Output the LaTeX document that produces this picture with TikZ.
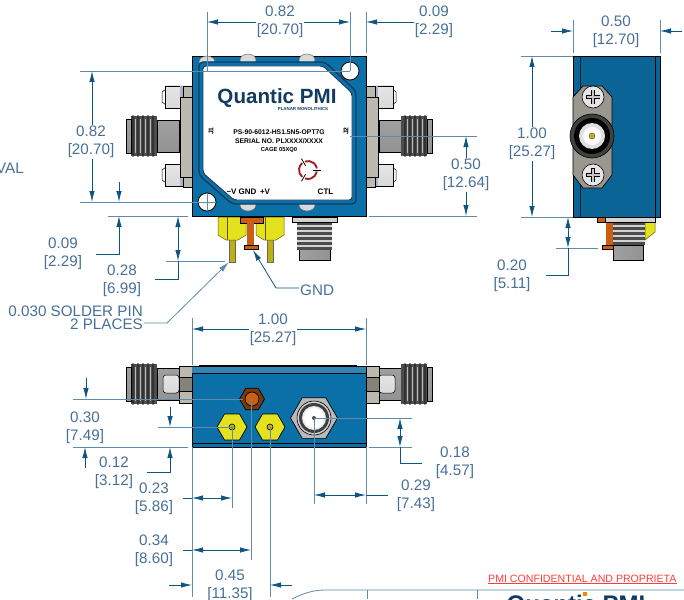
\documentclass[tikz,border=0pt]{standalone}
\usepackage{fontspec}
\setmainfont{Liberation Sans}
\usetikzlibrary{positioning,arrows.meta,calc,shapes.geometric}
\definecolor{pmiBlue}{RGB}{11,112,168}
\definecolor{pmiDeep}{RGB}{10,100,150}
\definecolor{pmiNavy}{RGB}{18,60,95}
\definecolor{pmiDim}{RGB}{15,85,130}
\definecolor{pmiExt}{RGB}{95,140,170}
\definecolor{pmiText}{RGB}{72,112,152}
\definecolor{pmiYellow}{RGB}{228,226,30}
\definecolor{pmiGold}{RGB}{190,175,20}
\definecolor{pmiOrange}{RGB}{200,95,20}
\definecolor{pmiMetal}{RGB}{190,185,175}
\definecolor{pmiRed}{RGB}{160,30,35}
\definecolor{pmiWarn}{RGB}{255,60,60}
\tikzset{
  dimtxt/.style={pmiText, font=\fontsize{15.2}{17.5}\selectfont, align=center, inner sep=1pt, yshift=-2pt},
  lbltxt/.style={black, font=\bfseries\fontsize{6.8}{8}\selectfont, inner sep=0pt},
  pintxt/.style={lbltxt, font=\bfseries\fontsize{8}{9}\selectfont},
  extline/.style={pmiExt, line width=0.8pt},
  dimline/.style={pmiDim, line width=0.8pt},
  dimto/.style={dimline, -{Latex[length=11pt,width=5.5pt]}},
  dimboth/.style={dimline, {Latex[length=11pt,width=5.5pt]}-{Latex[length=11pt,width=5.5pt]}},
  barrel/.style={draw=black, line width=0.5pt, top color=gray!75, middle color=gray!15, bottom color=gray!85},
  barrelup/.style={draw=black, line width=0.5pt, left color=gray!75, middle color=gray!10, right color=gray!85},
  whitehead/.style={draw=black, line width=0.5pt, top color=gray!20, middle color=white, bottom color=gray!30},
  hexnut/.style={regular polygon, regular polygon sides=6, draw=black, line width=0.7pt, inner sep=0pt},
  smaconn/.pic={
    % barrel, thread and mouth
    \path[barrel] (-35,-16) rectangle (-13,16);
    \fill[gray!60!black] (-61,-20) rectangle (-35,20);
    \foreach \t in {-59,-54,-49,-44,-39}
      \draw[black!80, line width=1.8pt, line cap=round] (\t,-20) -- (\t,20);
    \foreach \t in {-56.5,-51.5,-46.5,-41.5}
      \draw[gray!55, line width=0.8pt] (\t,-17) -- (\t,17);
    \path[barrel] (-66,-17) rectangle (-61,17);
  }
}
\begin{document}
\begin{tikzpicture}[x=1pt,y=-1pt]
  \useasboundingbox (0,0) rectangle (684,599);
  \fill[white] (0,0) rectangle (684,599);

  % Top view connectors
  \foreach \mx/\ox in {1/192,-1/366} {
    \begin{scope}[shift={(\ox,0)},xscale=\mx]
      \pic[transform shape] at (0,136) {smaconn};
      \foreach \sy in {97,175} {
        \draw[black, line width=0.5pt, fill=white] (-26,\sy-8) -- (-30,\sy-5) -- (-30,\sy+5) -- (-26,\sy+8) -- cycle;
        \path[whitehead] (-27,\sy-11) rectangle (-9,\sy+11);
        \fill[blue!25!gray!50] (-12,\sy-11) rectangle (-9,\sy+11);
      }
      \fill[pmiMetal, draw=black, line width=0.6pt] (-9,86) -- (0,86) -- (0,187) -- (-9,187) -- (-9,177)
        -- (-12,177) -- (-12,97) -- (-9,97) -- cycle;
      \draw[black, line width=0.8pt] (-9,97) -- (0,97);
      \draw[black, line width=0.8pt] (-9,177) -- (0,177);
    \end{scope}
  }

  % Solder pins, ground post and control connector
  \foreach \cx in {232,270} {
    \fill[pmiGold, draw=black!60, line width=0.4pt] (\cx-3,238) rectangle (\cx+3,262);
    \fill[pmiYellow, draw=black!50!pmiGold, line width=0.5pt] (\cx-14,217) -- (\cx+14,217) -- (\cx+14,235) -- (\cx+6,240)
      -- (\cx-6,240) -- (\cx-14,235) -- cycle;
    \draw[black!50!pmiGold, line width=0.5pt] (\cx-5,217) -- (\cx-5,240);
  }
  \fill[pmiOrange, draw=black, line width=0.6pt] (240,217) rectangle (263,223);
  \fill[pmiOrange] (247,223) rectangle (254,245);
  \fill[pmiOrange, draw=black, line width=0.5pt] (244,245) rectangle (258,249);
  \path[barrelup] (299,248) rectangle (330,260);
  \fill[gray!60!black] (297,222) rectangle (332,250);
  \foreach \t in {226,231,236,241,246}
    \draw[gray!35, line width=1.6pt] (297,\t) -- (332,\t);
  \fill[gray!35, draw=black, line width=0.5pt] (292,217) rectangle (337,222);

  % Top view housing
  \fill[pmiBlue, draw=black, line width=0.9pt] (192,56) rectangle (366,216);
  \foreach \sx/\sy in {207/62,248/60,307/60,248/205,307/205}
    \fill[gray!30, draw=black!60, line width=0.5pt] (\sx,\sy) ellipse (8 and 6);
  \draw[pmiNavy, line width=1.4pt, rounded corners=4pt, fill=pmiBlue] (199,62) -- (325,62) -- (356,91) -- (356,204)
    -- (232,204) -- (199,175) -- cycle;
  \draw[pmiNavy, line width=0.9pt, rounded corners=3pt, fill=white] (203,66) -- (323,66) -- (352,93) -- (352,200)
    -- (234,200) -- (203,173) -- cycle;
  \foreach \hx/\hy in {350/71,207/202}
    \fill[white, draw=black, line width=0.8pt] (\hx,\hy) circle (9);

  % Label
  \node[pmiNavy, font=\bfseries\fontsize{20.6}{21}\selectfont, inner sep=0pt, anchor=base] (logoTop) at (277,103) {Quantic PMI};
  \node[pmiNavy, font=\bfseries\fontsize{4.4}{5}\selectfont, inner sep=0pt] (logoSub) at (303,108.5) {PLANAR MONOLITHICS};
  \node[lbltxt] (lblPart) at (279,132) {PS-90-6012-HS1.5N5-OPT7G};
  \node[lbltxt] (lblSerial) at (279,141) {SERIAL NO. PLXXXX/XXXX};
  \node[lbltxt, font=\bfseries\fontsize{5.8}{7}\selectfont] (lblCage) at (279,150) {CAGE 05XQ0};
  \node[lbltxt, rotate=90] (lblJa) at (211,131) {J1};
  \node[lbltxt, rotate=90] (lblJb) at (346,131) {J2};
  \node[pintxt] (lblMinus) at (231.5,192) {−V};
  \node[pintxt] (lblGnd) at (247.5,192) {GND};
  \node[pintxt] (lblPlus) at (265,192) {+V};
  \node[pintxt] (lblCtl) at (325.5,192) {CTL};
  % Hazard mark
  \foreach \a in {10,130,250}
    \draw[pmiRed, line width=1.9pt] (308,170) ++(\a:9) arc[start angle=\a, end angle=\a+100, radius=9];
  \foreach \a in {0,120,240}
    \draw[black, line width=0.8pt] (308,170) ++(\a:5) -- ++(\a:8);

  % Side view
  \fill[pmiDeep, draw=black, line width=0.8pt] (573,56) rectangle (660,217);
  \draw[black!70!pmiDeep, line width=0.9pt] (580,56) -- (580,217);
  \draw[black, line width=0.6pt] (655,56) -- (655,217);
  \fill[pmiMetal!70!gray!90!black, draw=black, line width=0.7pt] (573,97) -- (583,86) -- (602,86) -- (612,97) -- (612,175)
    -- (602,188) -- (583,188) -- (573,175) -- cycle;
  \foreach \sy in {97,175} {
    \fill[gray!20, draw=black, line width=0.6pt] (593,\sy) circle (11);
    \draw[black, line width=3.2pt] (586,\sy) -- (600,\sy) (593,\sy-7) -- (593,\sy+7);
    \draw[gray!45, line width=1.8pt] (586.5,\sy) -- (599.5,\sy) (593,\sy-6.5) -- (593,\sy+6.5);
  }
  \fill[gray!50!black, draw=black, line width=0.6pt] (592,136) circle (22);
  \fill[black] (592,136) circle (18);
  \fill[gray!25] (592,136) circle (13);
  \fill[white] (592,136) circle (9);
  \fill[pmiGold, draw=black!70, line width=0.4pt] (592,136) circle (3);
  \fill[pmiYellow, draw=black!50!pmiGold, line width=0.5pt] (645,222) -- (655,222) -- (655,232) -- (645,240) -- cycle;
  \path[barrelup] (613,245) rectangle (643,260);
  \fill[gray!60!black] (613,222) rectangle (645,245);
  \foreach \t in {226,231,236,241}
    \draw[gray!35, line width=1.6pt] (613,\t) -- (645,\t);
  \fill[gray!35, draw=black, line width=0.5pt] (605,217) rectangle (655,222);
  \fill[pmiOrange, draw=black, line width=0.5pt] (597,217) rectangle (605,222);
  \fill[pmiOrange] (606,223) rectangle (613,245);
  \fill[pmiOrange, draw=black, line width=0.5pt] (602,245) rectangle (613,249);

  % Bottom view
  \foreach \mx/\ox in {1/192,-1/366} {
    \begin{scope}[shift={(\ox,0)},xscale=\mx]
      \pic[transform shape] at (0,384) {smaconn};
      \path[whitehead, rounded corners=3pt] (-29,375) rectangle (-13,393);
      \fill[pmiMetal, draw=black, line width=0.6pt] (-13,366) rectangle (0,403);
      \fill[pmiMetal!70!black, draw=black, line width=0.5pt] (-13,377) rectangle (0,391);
    \end{scope}
  }
  \fill[pmiBlue, draw=black, line width=0.8pt] (192,366) rectangle (366,447);
  \fill[pmiBlue!85!white] (192,367) rectangle (366,373);
  \draw[black, line width=0.9pt] (192,373) -- (366,373);
  \draw[black, line width=0.9pt] (192,443) -- (366,443);
  \draw[black, line width=1.2pt] (199,365.5) -- (357,365.5);
  \node[hexnut, fill=pmiOrange!60!black, minimum size=25pt] (gndNut) at (252,399) {};
  \fill[pmiOrange, draw=black, line width=0.7pt] (gndNut.center) circle (7);
  \foreach \cx/\cn in {232/pinA,270/pinB} {
    \node[hexnut, fill=pmiYellow, minimum size=30pt] (\cn) at (\cx,427) {};
    \fill[pmiGold, draw=black, line width=0.6pt] (\cn.center) circle (3);
  }
  \node[hexnut, fill=gray!55, minimum size=47pt] (ctlNut) at (314,418) {};
  \fill[gray!35, draw=black, line width=0.6pt] (ctlNut.center) circle (17);
  \fill[black!75] (ctlNut.center) circle (15);
  \fill[gray!15] (ctlNut.center) circle (12);
  \fill[white] (ctlNut.center) circle (10);
  \fill[gray!60!black] (ctlNut.center) circle (2);

  % Extension lines
  \foreach \a/\b in {{207,12}/{207,71},{350,12}/{350,71},{366,12}/{366,53},{80,71}/{350,71},{80,202}/{216,202},
      {207,193}/{207,211},{108,216}/{188,216},{166,261}/{225,261},{350,136}/{477,136},{369,216}/{477,216},
      {573,20}/{573,53},{660,20}/{660,53},{521,56}/{573,56},{521,217}/{573,217},{556,248}/{598,248},
      {192,318}/{192,365},{366,318}/{366,365},{73,399}/{243,399},{73,447}/{188,447},{158,427}/{232,427},
      {369,447}/{412,447},{314,418}/{412,418},{192,447}/{192,597},{366,447}/{366,504},{232,427}/{232,508},
      {251,399}/{251,560},{270,427}/{270,597},{314,418}/{314,504}}
    \draw[extline] (\a) -- (\b);

  % Width and height of the top view
  \node[dimtxt] (dimTopW) at (280,20) {0.82\\{[20.70]}};
  \coordinate (topWa) at (207,22);
  \coordinate (topWb) at (350,22);
  \draw[dimto] (dimTopW.west |- topWa) -- (topWa);
  \draw[dimto] (dimTopW.east |- topWb) -- (topWb);
  \node[dimtxt] (dimTopEdge) at (434,20) {0.09\\{[2.29]}};
  \coordinate (edgeW) at (366,22);
  \draw[dimto] (dimTopEdge.west |- edgeW) -- (edgeW);
  \node[dimtxt] (dimTopH) at (91,140) {0.82\\{[20.70]}};
  \coordinate (topHa) at (92,71);
  \coordinate (topHb) at (92,202);
  \draw[dimto] (topHa |- dimTopH.north) -- (topHa);
  \draw[dimto] (topHb |- dimTopH.south) -- (topHb);

  % Left stack under the top view
  \node[dimtxt] (dimEdgeH) at (63,252) {0.09\\{[2.29]}};
  \coordinate (edgeHa) at (119,182);
  \coordinate (edgeHb) at (119,202);
  \coordinate (edgeHc) at (119,216);
  \coordinate (edgeHd) at (96,254);
  \draw[dimto] (edgeHa) -- (edgeHb);
  \draw[dimto] (edgeHd) -| (edgeHc);
  \node[dimtxt] (dimPinH) at (122,279) {0.28\\{[6.99]}};
  \coordinate (pinHa) at (178,216);
  \coordinate (pinHb) at (178,261);
  \coordinate (pinHc) at (155,279);
  \draw[dimboth] (pinHa) -- (pinHb);
  \draw[dimline] (pinHc) -| (pinHb);

  % Pin and ground callouts
  \node[dimtxt, align=right, anchor=east, font=\fontsize{15.2}{13}\selectfont] (noteSolder) at (144,316) {0.030 SOLDER PIN\\2 PLACES};
  \coordinate (pinTip) at (229,262);
  \draw[dimline, -{Latex[length=11pt,width=5.5pt]}, pmiExt] (noteSolder.east |- 0,323) -- (167,323) -- (pinTip);
  \node[dimtxt, anchor=west] (noteGnd) at (299,288) {GND};
  \coordinate (gndTip) at (253,250);
  \draw[dimto] (noteGnd.west |- 0,288) -- (276,288) -- (gndTip);

  % Right of the top view
  \node[dimtxt] (dimConnH) at (466,173) {0.50\\{[12.64]}};
  \coordinate (connHa) at (466,136);
  \coordinate (connHb) at (466,216);
  \draw[dimto] (connHa |- dimConnH.north) -- (connHa);
  \draw[dimto] (connHb |- dimConnH.south) -- (connHb);

  % Side view sizes
  \node[dimtxt] (dimSideW) at (616,30) {0.50\\{[12.70]}};
  \coordinate (sideWa) at (551,31);
  \coordinate (sideWb) at (573,31);
  \coordinate (sideWc) at (682,31);
  \coordinate (sideWd) at (660,31);
  \draw[dimto] (sideWa) -- (sideWb);
  \draw[dimto] (sideWc) -- (sideWd);
  \node[dimtxt] (dimSideH) at (532,142) {1.00\\{[25.27]}};
  \coordinate (sideHa) at (532,56);
  \coordinate (sideHb) at (532,217);
  \draw[dimto] (sideHa |- dimSideH.north) -- (sideHa);
  \draw[dimto] (sideHb |- dimSideH.south) -- (sideHb);
  \node[dimtxt] (dimSidePin) at (512,274) {0.20\\{[5.11]}};
  \coordinate (sidePa) at (568,217);
  \coordinate (sidePb) at (568,248);
  \coordinate (sidePc) at (546,275);
  \draw[dimboth] (sidePa) -- (sidePb);
  \draw[dimline] (sidePc) -| (sidePb);

  % Bottom view sizes
  \node[dimtxt] (dimBotW) at (273,328) {1.00\\{[25.27]}};
  \coordinate (botWa) at (192,329);
  \coordinate (botWb) at (366,329);
  \draw[dimto] (dimBotW.west |- botWa) -- (botWa);
  \draw[dimto] (dimBotW.east |- botWb) -- (botWb);
  \node[dimtxt] (dimGndH) at (85,426) {0.30\\{[7.49]}};
  \coordinate (gndHa) at (86,378);
  \coordinate (gndHb) at (86,399);
  \coordinate (gndHc) at (85,468);
  \coordinate (gndHd) at (85,447);
  \draw[dimto] (gndHa) -- (gndHb);
  \draw[dimto] (gndHc) -- (gndHd);
  \node[dimtxt] (dimPinOff) at (114,471) {0.12\\{[3.12]}};
  \coordinate (pinOa) at (170,407);
  \coordinate (pinOb) at (170,427);
  \coordinate (pinOc) at (147,472);
  \coordinate (pinOd) at (170,447);
  \draw[dimto] (pinOa) -- (pinOb);
  \draw[dimto] (pinOc) -| (pinOd);
  \node[dimtxt] (dimCtlOff) at (455,461) {0.18\\{[4.57]}};
  \coordinate (ctlOa) at (400,418);
  \coordinate (ctlOb) at (400,447);
  \coordinate (ctlOc) at (422,463);
  \draw[dimboth] (ctlOa) -- (ctlOb);
  \draw[dimline] (ctlOc) -| (ctlOb);
  \node[dimtxt] (dimPinA) at (154,497) {0.23\\{[5.86]}};
  \coordinate (pinAa) at (192,498);
  \coordinate (pinAb) at (232,498);
  \coordinate (pinAc) at (183,498);
  \draw[dimboth] (pinAa) -- (pinAb);
  \draw[dimline] (pinAc) -- (pinAa);
  \node[dimtxt] (dimGndX) at (154,549) {0.34\\{[8.60]}};
  \coordinate (gndXa) at (192,550);
  \coordinate (gndXb) at (251,550);
  \coordinate (gndXc) at (183,550);
  \draw[dimboth] (gndXa) -- (gndXb);
  \draw[dimline] (gndXc) -- (gndXa);
  \node[dimtxt] (dimPinB) at (230,584) {0.45\\{[11.35]}};
  \coordinate (pinBa) at (169,585);
  \coordinate (pinBb) at (192,585);
  \coordinate (pinBc) at (292,585);
  \coordinate (pinBd) at (270,585);
  \draw[dimto] (pinBa) -- (pinBb);
  \draw[dimto] (pinBc) -- (pinBd);
  \node[dimtxt] (dimCtlX) at (416,494) {0.29\\{[7.43]}};
  \coordinate (ctlXa) at (314,495);
  \coordinate (ctlXb) at (366,495);
  \coordinate (ctlXc) at (388,495);
  \draw[dimboth] (ctlXa) -- (ctlXb);
  \draw[dimline] (ctlXc) -- (ctlXb);

  % Cut off title block
  \node[dimtxt, anchor=east] (noteVal) at (25,166) {IVAL};
  \node[pmiWarn, font=\fontsize{10.6}{12}\selectfont, anchor=west, inner sep=0pt] (noteConf) at (488,579) {PMI CONFIDENTIAL AND PROPRIETA};
  \draw[pmiWarn, line width=0.6pt] (noteConf.south west) -- (noteConf.south east);
  \draw[pmiExt, line width=0.8pt] (292,599) .. controls (302,594) and (312,590) .. (325,590) -- (684,590);
  \draw[pmiExt, line width=0.8pt] (367,590) -- (367,599);
  \draw[pmiExt, line width=0.8pt] (477,590) -- (477,599);
  \node[pmiNavy, font=\bfseries\fontsize{24}{24}\selectfont, inner sep=0pt] (logoBlock) at (576,606) {Quantic PMI};
  \fill[orange] (583,592) rectangle (587,596);
\end{tikzpicture}
\end{document}
